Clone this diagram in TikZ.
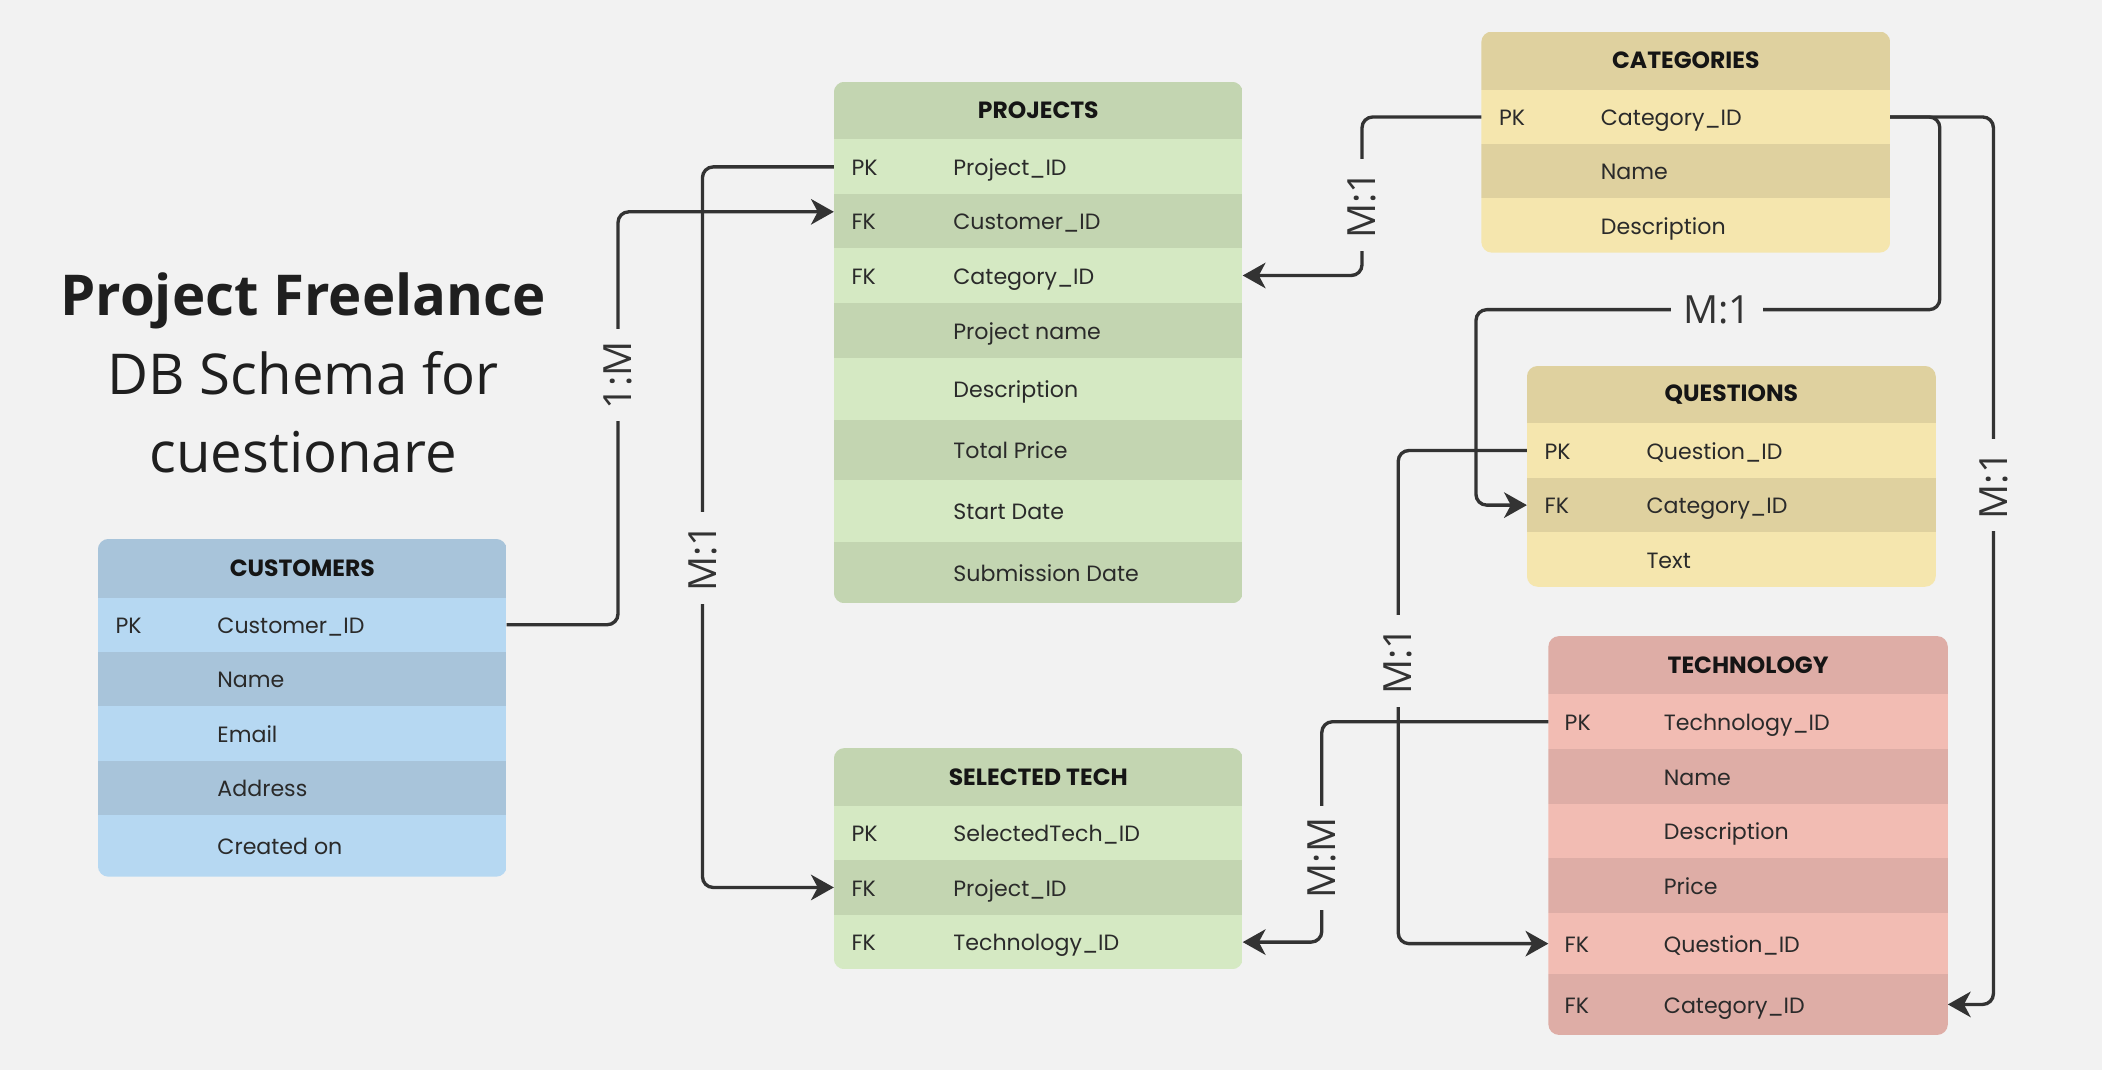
\documentclass[tikz,border=0pt]{standalone}
\usepackage{fontspec}
\setmainfont{Open Sans}
\newfontfamily\tblfont{Poppins}
\usetikzlibrary{arrows.meta,fit}
\definecolor{bg}{HTML}{F2F2F2}
\definecolor{linec}{HTML}{333333}
\definecolor{txtc}{HTML}{2A2A2A}
\definecolor{headc}{HTML}{151515}
\definecolor{bluedk}{HTML}{A8C4DA}
\definecolor{bluelt}{HTML}{B6D8F2}
\definecolor{greendk}{HTML}{C3D5B1}
\definecolor{greenlt}{HTML}{D5E9C3}
\definecolor{yeldk}{HTML}{DFD19F}
\definecolor{yellt}{HTML}{F5E6AE}
\definecolor{reddk}{HTML}{DEADA6}
\definecolor{redlt}{HTML}{F2BCB3}
\tikzset{
  rowbox/.style={inner sep=0pt, outer sep=0pt, draw=none},
  keytxt/.style={font=\tblfont\fontsize{16.5}{19}\selectfont, text=txtc, anchor=base west, inner sep=0pt},
  fldtxt/.style={font=\tblfont\fontsize{16.5}{19}\selectfont, text=txtc, anchor=base west, inner sep=0pt},
  headtxt/.style={font=\tblfont\bfseries\fontsize{17.5}{20}\selectfont, text=headc, inner sep=0pt},
  conn/.style={draw=linec, line width=2.5pt, rounded corners=8pt},
  arr/.style={-{Stealth[length=17pt,width=19pt,inset=5pt]}},
  rel/.style={font=\fontsize{29}{34}\selectfont, text=linec, fill=bg, inner xsep=9pt, inner ysep=1pt},
  titlebig/.style={font=\fontsize{42}{50}\selectfont, text=black!88, anchor=base},
}
\newcommand\keyoff{13}
\newcommand\fldoff{89}
% name, xl, ytop, ybot, xr, colour, key, field
\newcommand\erow[8]{%
  \node[rowbox, fill=#6, fit={(#2,#3) (#5,#4)}] (#1) {};
  \node[keytxt] (#1-k) at ([xshift=\keyoff pt, yshift=-6.5pt]#1.west) {#7};
  \node[fldtxt] (#1-f) at ([xshift=\fldoff pt, yshift=-6.5pt]#1.west) {#8};}
% name, xl, ytop, ybot, xr, colour, title
\newcommand\ehead[7]{%
  \node[rowbox, fill=#6, fit={(#2,#3) (#5,#4)}] (#1) {};
  \node[headtxt] (#1-t) at (#1.center) {#7};}
\begin{document}
\begin{tikzpicture}[x=1pt,y=-1pt]
\path[fill=bg, use as bounding box] (0,0) rectangle (1568,798);

% title
\node[titlebig, font=\bfseries\fontsize{42}{50}\selectfont] (t1) at (226,235) {Project Freelance};
\node[titlebig] (t2) at (226,294) {DB Schema for};
\node[titlebig] (t3) at (226,352.5) {cuestionare};

% CUSTOMERS
\begin{scope}
\clip[rounded corners=8pt] (73,402) rectangle (378,654);
\ehead{cust}{73}{402}{446}{378}{bluedk}{CUSTOMERS}
\erow{cust-pk}{73}{446}{486}{378}{bluelt}{PK}{Customer\_ID}
\erow{cust-r2}{73}{486}{527}{378}{bluedk}{}{Name}
\erow{cust-r3}{73}{527}{567.5}{378}{bluelt}{}{Email}
\erow{cust-r4}{73}{567.5}{608}{378}{bluedk}{}{Address}
\erow{cust-r5}{73}{608}{654}{378}{bluelt}{}{Created on}
\end{scope}

% PROJECTS
\begin{scope}
\clip[rounded corners=8pt] (622,61) rectangle (927,450);
\ehead{proj}{622}{61}{104}{927}{greendk}{PROJECTS}
\erow{proj-pk}{622}{104}{145}{927}{greenlt}{PK}{Project\_ID}
\erow{proj-fk1}{622}{145}{185}{927}{greendk}{FK}{Customer\_ID}
\erow{proj-fk2}{622}{185}{226}{927}{greenlt}{FK}{Category\_ID}
\erow{proj-r4}{622}{226}{267}{927}{greendk}{}{Project name}
\erow{proj-r5}{622}{267}{313}{927}{greenlt}{}{Description}
\erow{proj-r6}{622}{313}{358}{927}{greendk}{}{Total Price}
\erow{proj-r7}{622}{358}{404}{927}{greenlt}{}{Start Date}
\erow{proj-r8}{622}{404}{450}{927}{greendk}{}{Submission Date}
\end{scope}

% SELECTED TECH
\begin{scope}
\clip[rounded corners=8pt] (622,558) rectangle (927,723);
\ehead{sel}{622}{558}{601}{927}{greendk}{SELECTED TECH}
\erow{sel-pk}{622}{601}{641.5}{927}{greenlt}{PK}{SelectedTech\_ID}
\erow{sel-fk1}{622}{641.5}{682.5}{927}{greendk}{FK}{Project\_ID}
\erow{sel-fk2}{622}{682.5}{723}{927}{greenlt}{FK}{Technology\_ID}
\end{scope}

% CATEGORIES
\begin{scope}
\clip[rounded corners=8pt] (1105,23.5) rectangle (1410,188.5);
\ehead{cat}{1105}{23.5}{67}{1410}{yeldk}{CATEGORIES}
\erow{cat-pk}{1105}{67}{107.5}{1410}{yellt}{PK}{Category\_ID}
\erow{cat-r2}{1105}{107.5}{148}{1410}{yeldk}{}{Name}
\erow{cat-r3}{1105}{148}{188.5}{1410}{yellt}{}{Description}
\end{scope}

% QUESTIONS
\begin{scope}
\clip[rounded corners=8pt] (1139,273) rectangle (1444,437.7);
\ehead{que}{1139}{273}{315.5}{1444}{yeldk}{QUESTIONS}
\erow{que-pk}{1139}{315.5}{356.6}{1444}{yellt}{PK}{Question\_ID}
\erow{que-fk}{1139}{356.6}{397}{1444}{yeldk}{FK}{Category\_ID}
\erow{que-r3}{1139}{397}{437.7}{1444}{yellt}{}{Text}
\end{scope}

% TECHNOLOGY
\renewcommand\keyoff{12}
\renewcommand\fldoff{86}
\begin{scope}
\clip[rounded corners=8pt] (1155,474.5) rectangle (1453,772);
\ehead{tech}{1155}{474.5}{518}{1453}{reddk}{TECHNOLOGY}
\erow{tech-pk}{1155}{518}{558.7}{1453}{redlt}{PK}{Technology\_ID}
\erow{tech-r2}{1155}{558.7}{599.5}{1453}{reddk}{}{Name}
\erow{tech-r3}{1155}{599.5}{640.3}{1453}{redlt}{}{Description}
\erow{tech-r4}{1155}{640.3}{681.3}{1453}{reddk}{}{Price}
\erow{tech-fk1}{1155}{681.3}{726.5}{1453}{redlt}{FK}{Question\_ID}
\erow{tech-fk2}{1155}{726.5}{772}{1453}{reddk}{FK}{Category\_ID}
\end{scope}

% connectors
\draw[conn,arr] (cust-pk.east) -- ++(83,0) |- ([yshift=7pt]proj-fk1.west);
\draw[conn,arr] (proj-pk.west) -- ++(-98,0) |- (sel-fk1.west);
\draw[conn,arr] (cat-pk.west) -- ++(-89,0) |- (proj-fk2.east);
\coordinate (c4) at (1101,231);
\draw[conn,arr] (cat-pk.east) -- ++(37,0) |- (c4) |- (que-fk.west);
\draw[conn,arr] (cat-pk.east) -- ++(77,0) |- (tech-fk2.east);
\draw[conn,arr] (que-pk.west) -- ++(-96,0) |- (tech-fk1.west);
\draw[conn,arr] (tech-pk.west) -- ++(-169,0) |- (sel-fk2.east);

% relation labels
\node[rel, rotate=90] (l1) at (461,280) {1:M};
\node[rel, rotate=90] (l2) at (524,416) {M:1};
\node[rel, rotate=90] (l3) at (1016,153) {M:1};
\node[rel] (l4) at (1281,231) {M:1};
\node[rel, rotate=90] (l5) at (1487,362) {M:1};
\node[rel, rotate=90] (l6) at (1043,493) {M:1};
\node[rel, rotate=90] (l7) at (986,640) {M:M};
\end{tikzpicture}
\end{document}
